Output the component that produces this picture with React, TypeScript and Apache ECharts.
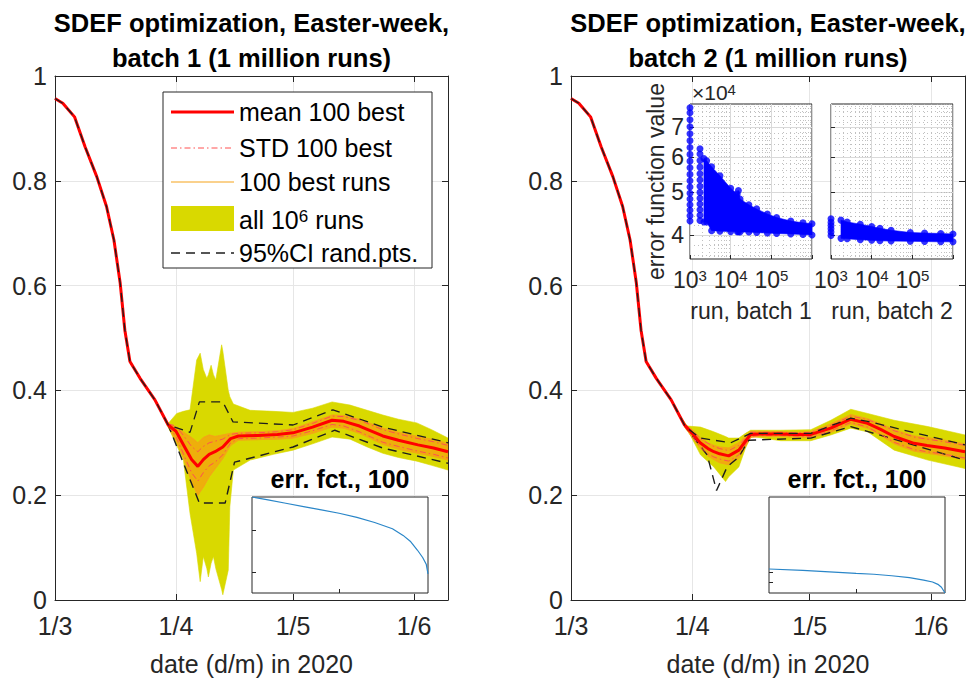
import React, { useEffect, useRef } from 'react';
import * as echarts from 'echarts';

// ---------------- tick labels ----------------
const DATE_TICK_DAYS = [0, 31, 61, 92];
const DATE_TICK_LABELS = ['1/3', '1/4', '1/5', '1/6'];
const DAY_MAX = 100.7;
const TITLE_L = 'SDEF optimization, Easter-week,\nbatch 1 (1 million runs)';
const TITLE_R = 'SDEF optimization, Easter-week,\nbatch 2 (1 million runs)';

// ---------------- common early part (days since 1/3) ----------------
const earlyDays = [0, 2, 5, 7.7, 10.7, 13.2, 15.1, 16.7, 17.9, 19.2, 21.8, 25.6];
const earlyMean = [0.957, 0.948, 0.922, 0.865, 0.808, 0.751, 0.687, 0.605, 0.515, 0.455, 0.423, 0.382];

// ---------------- batch 1 (left) ----------------
const daysL = [29, 31, 33, 35, 36.6, 38, 39.5, 41, 43, 45, 47, 52, 57, 61, 66, 71, 74, 78, 84, 88, 93, 97, 100.7];
const meanL = [0.334, 0.322, 0.295, 0.268, 0.255, 0.268, 0.278, 0.283, 0.292, 0.308, 0.313, 0.314, 0.316, 0.319, 0.33, 0.343, 0.341, 0.332, 0.313, 0.305, 0.296, 0.29, 0.283];
const stdL = [0.002, 0.01, 0.018, 0.025, 0.028, 0.025, 0.022, 0.02, 0.015, 0.008, 0.005, 0.005, 0.005, 0.006, 0.007, 0.008, 0.009, 0.011, 0.012, 0.012, 0.012, 0.012, 0.012];
const bestLoL = [0.33, 0.305, 0.27, 0.225, 0.2, 0.215, 0.235, 0.25, 0.27, 0.295, 0.305, 0.306, 0.307, 0.309, 0.318, 0.33, 0.328, 0.318, 0.297, 0.288, 0.28, 0.274, 0.267];
const bestHiL = [0.336, 0.33, 0.32, 0.31, 0.3, 0.31, 0.315, 0.312, 0.315, 0.318, 0.32, 0.321, 0.323, 0.327, 0.34, 0.353, 0.352, 0.345, 0.328, 0.32, 0.312, 0.306, 0.299];
const bandDaysL = [27.5, 29, 31.2, 32.9, 34.6, 36.3, 37.2, 38, 38.9, 39.3, 40, 40.6, 41.2, 42.7, 43, 44.4, 44.8, 45.7, 50, 56, 61, 66, 71, 75.6, 80, 84, 88, 92.7, 96.5, 100.7];
const bandHiL = [0.356, 0.337, 0.356, 0.36, 0.363, 0.458, 0.471, 0.44, 0.423, 0.43, 0.448, 0.43, 0.42, 0.487, 0.475, 0.4, 0.388, 0.374, 0.362, 0.36, 0.358, 0.366, 0.378, 0.372, 0.362, 0.353, 0.345, 0.338, 0.325, 0.309];
const bandLoL = [0.354, 0.33, 0.295, 0.267, 0.165, 0.089, 0.035, 0.083, 0.06, 0.044, 0.07, 0.083, 0.06, 0.02, 0.01, 0.057, 0.178, 0.248, 0.267, 0.278, 0.286, 0.298, 0.311, 0.307, 0.292, 0.28, 0.272, 0.265, 0.257, 0.248];
const ciUpDaysL = [29, 34.6, 37, 43, 45.6, 61, 71.2, 84, 100.7];
const ciUpL = [0.334, 0.32, 0.378, 0.378, 0.34, 0.334, 0.363, 0.33, 0.3];
const ciLoDaysL = [29, 37, 43.6, 46, 61, 71.7, 84, 100.7];
const ciLoL = [0.334, 0.185, 0.185, 0.263, 0.292, 0.324, 0.29, 0.261];

// ---------------- batch 2 (right) ----------------
const daysR = [29, 31, 33, 35, 36.5, 38, 40.3, 42.9, 44.5, 45.9, 48, 53.6, 57, 61.3, 66.4, 71.5, 75.8, 79, 82.6, 87.7, 91, 95.5, 100.7];
const meanR = [0.334, 0.318, 0.3, 0.289, 0.283, 0.279, 0.275, 0.286, 0.302, 0.316, 0.317, 0.317, 0.316, 0.316, 0.328, 0.345, 0.337, 0.326, 0.312, 0.299, 0.295, 0.29, 0.283];
const stdR = [0.002, 0.005, 0.008, 0.01, 0.01, 0.01, 0.01, 0.009, 0.006, 0.004, 0.003, 0.003, 0.003, 0.004, 0.005, 0.006, 0.007, 0.009, 0.011, 0.012, 0.012, 0.012, 0.012];
const bestLoR = [0.33, 0.31, 0.29, 0.275, 0.268, 0.262, 0.258, 0.27, 0.292, 0.31, 0.312, 0.312, 0.311, 0.31, 0.32, 0.336, 0.328, 0.315, 0.298, 0.284, 0.28, 0.275, 0.268];
const bestHiR = [0.336, 0.325, 0.31, 0.3, 0.295, 0.292, 0.29, 0.3, 0.312, 0.322, 0.322, 0.321, 0.32, 0.321, 0.336, 0.354, 0.346, 0.337, 0.325, 0.313, 0.31, 0.305, 0.298];
const bandDaysR = [27.5, 29.7, 33.1, 36.5, 39.5, 40.3, 42.9, 44.6, 45.9, 46.3, 53.6, 61.3, 66.4, 71.5, 75.8, 82.6, 91.2, 100.7];
const bandHiR = [0.356, 0.332, 0.33, 0.321, 0.312, 0.309, 0.309, 0.318, 0.324, 0.324, 0.324, 0.325, 0.343, 0.364, 0.356, 0.343, 0.331, 0.315];
const bandLoR = [0.354, 0.326, 0.277, 0.254, 0.226, 0.235, 0.254, 0.29, 0.31, 0.312, 0.304, 0.304, 0.315, 0.328, 0.321, 0.286, 0.267, 0.251];
const ciUpDaysR = [29, 29.7, 33.1, 40.8, 45.9, 61.3, 71.5, 75.8, 100.7];
const ciUpR = [0.334, 0.328, 0.309, 0.3, 0.318, 0.318, 0.347, 0.341, 0.296];
const ciLoDaysR = [29, 29.7, 34.8, 37.2, 39.9, 42.9, 45.4, 61.3, 71.5, 100.7];
const ciLoR = [0.334, 0.326, 0.277, 0.209, 0.254, 0.273, 0.305, 0.309, 0.331, 0.267];

// ---------------- "err. fct., 100" insets ----------------
const errRank1 = [1, 10, 20, 30, 40, 50, 60, 70, 80, 86, 90, 94, 97, 99, 100];
const errBatch1 = [40280, 40273, 40265, 40257, 40249, 40241, 40231, 40219, 40204, 40188, 40174, 40153, 40135, 40119, 40096];
const errRank2 = [1, 20, 40, 50, 60, 70, 80, 88, 93, 96, 98, 100];
const errBatch2 = [38628, 38614, 38595, 38585, 38576, 38561, 38542, 38518, 38499, 38476, 38447, 38390];
const errTicks1 = [40100, 40200];
const errTicks2 = [38500, 38600];

// ---------------- error function value vs run (log-log inset) ----------------
const run1ColAX = 1000;
const run1ColA = [43000, 44200, 45500, 46800, 48200, 49700, 51300, 53000, 54800, 56700, 58700, 60800, 63000, 65300, 67700, 70200, 72800, 75500, 77500];
const run1ColBX = 1760;
const run1ColB = [43100, 44300, 45600, 47000, 48400, 49900, 51500, 53200, 55000, 56900, 58900, 60900, 62600];
const run1BandX = [2200, 2570, 3400, 5450, 10000, 14500, 15500, 17000, 28000, 43600, 80000, 135000, 300000, 600000, 1000000];
const run1BandHi = [59500, 58800, 57000, 54400, 51000, 49500, 50400, 48200, 46800, 45800, 44600, 43800, 43000, 42600, 42400];
const run1BandLo = [42800, 42800, 40900, 40800, 40700, 40700, 40700, 40600, 40600, 40500, 40400, 40300, 40200, 40100, 40000];
const run2ColAX = 1000;
const run2ColA = [39900, 40600, 41300, 42000, 42700, 43500];
const run2BandX = [1760, 2500, 5250, 10000, 16000, 30000, 89000, 200000, 500000, 1000000];
const run2BandHi = [43200, 42800, 42300, 41800, 41400, 41000, 40500, 40400, 40300, 40200];
const run2BandLo = [39300, 39200, 39000, 38900, 38800, 38750, 38700, 38650, 38600, 38600];
const errTickValues = [40000, 50000, 60000, 70000];
const errMinorTicks = [36000, 38000, 42000, 44000, 46000, 48000, 52000, 54000, 56000, 58000, 62000, 64000, 66000, 68000, 72000, 74000, 76000, 78000];
const runMinorTicks = [2000, 3000, 4000, 5000, 6000, 7000, 8000, 9000, 20000, 30000, 40000, 50000, 60000, 70000, 80000, 90000, 200000, 300000, 400000, 500000, 600000, 700000, 800000, 900000];

// ---------------- styles ----------------
const FONT = '"Liberation Sans", Arial, Helvetica, sans-serif';
const AXC = '#262626';
const GRIDC = '#e6e6e6';
const YELLOW = '#D9D900';
const RED = '#FF0000';
const STDRED = '#FF5050';
const ORANGE = '#F5A31A';
const CIC = '#1e1e1e';
const BLUE = '#0000FF';
const ERRBLUE = '#2a86c8';

const pairs = (xs: number[], ys: number[]) => xs.map((x, i) => [x, ys[i]]);

function bandSeries(xIdx: number, yIdx: number, xs: number[], lo: number[], hi: number[], color: string, z: number) {
  return {
    type: 'custom',
    xAxisIndex: xIdx,
    yAxisIndex: yIdx,
    z,
    silent: true,
    data: xs.map((x, i) => [x, lo[i], hi[i]]),
    encode: { x: 0, y: [1, 2] },
    renderItem: (params: any, api: any) => {
      if (params.dataIndex !== 0) return null;
      const pts: number[][] = [];
      for (let i = 0; i < xs.length; i++) pts.push(api.coord([xs[i], hi[i]]));
      for (let i = xs.length - 1; i >= 0; i--) pts.push(api.coord([xs[i], lo[i]]));
      return { type: 'polygon', shape: { points: pts }, style: { fill: color, stroke: color, lineWidth: 0.6 } };
    },
  };
}

function lineSeries(xIdx: number, yIdx: number, data: number[][], color: string, width: number, type: any, z: number, dashOffset = 0) {
  return {
    type: 'line',
    xAxisIndex: xIdx,
    yAxisIndex: yIdx,
    data,
    showSymbol: false,
    symbol: 'none',
    silent: true,
    z,
    lineStyle: { color, width, type, dashOffset, cap: 'butt' },
  };
}

function panelSeries(p: number, days: number[], mean: number[], std: number[], bestLo: number[], bestHi: number[],
  bandDays: number[], bandLo: number[], bandHi: number[], ciUpDays: number[], ciUp: number[], ciLoDays: number[], ciLo: number[]) {
  const xi = p * 2;
  const yi = p * 2;
  const early = pairs(earlyDays, earlyMean);
  return [
    bandSeries(xi, yi, bandDays, bandLo, bandHi, YELLOW, 1),
    bandSeries(xi, yi, days, bestLo, bestHi, 'rgba(255,140,20,0.55)', 2),
    lineSeries(xi, yi, pairs(days, bestLo), ORANGE, 0.8, 'solid', 3),
    lineSeries(xi, yi, pairs(days, bestHi), ORANGE, 0.8, 'solid', 3),
    lineSeries(xi, yi, early.concat(pairs(ciLoDays, ciLo)), CIC, 1.4, [9, 6], 4, 7.5),
    lineSeries(xi, yi, days.map((d, i) => [d, mean[i] + std[i]]), STDRED, 1, [6, 3, 1.5, 3], 5),
    lineSeries(xi, yi, days.map((d, i) => [d, mean[i] - std[i]]), STDRED, 1, [6, 3, 1.5, 3], 5),
    lineSeries(xi, yi, early.concat(pairs(days, mean)), RED, 3, 'solid', 6),
    lineSeries(xi, yi, early.concat(pairs(ciUpDays, ciUp)), CIC, 1.3, [9, 6], 7, 0),
  ];
}

const dateLabel = (v: number) => {
  const i = DATE_TICK_DAYS.indexOf(Math.round(v));
  return i >= 0 ? DATE_TICK_LABELS[i] : '';
};

function mainXAxes(grid: number) {
  const line = { show: true, onZero: false, lineStyle: { color: AXC, width: 1 } };
  const tick = { show: true, inside: true, length: 6, customValues: DATE_TICK_DAYS, lineStyle: { color: AXC } };
  return [
    {
      type: 'value', gridIndex: grid, position: 'bottom', min: 0, max: DAY_MAX, z: 1,
      axisLine: line, axisTick: tick,
      axisLabel: { show: true, customValues: DATE_TICK_DAYS, formatter: dateLabel, fontSize: 25, color: AXC, fontFamily: FONT, margin: 13 },
      splitLine: { show: true, lineStyle: { color: GRIDC, width: 1 } },
      name: 'date (d/m) in 2020', nameLocation: 'middle', nameGap: 51,
      nameTextStyle: { fontSize: 25, color: AXC, fontFamily: FONT },
    },
    {
      type: 'value', gridIndex: grid, position: 'top', min: 0, max: DAY_MAX, z: 1,
      axisLine: line, axisTick: tick, axisLabel: { show: false }, splitLine: { show: false },
    },
  ];
}

function mainYAxes(grid: number) {
  const line = { show: true, onZero: false, lineStyle: { color: AXC, width: 1 } };
  const tick = { show: true, inside: true, length: 6, lineStyle: { color: AXC } };
  return [
    {
      type: 'value', gridIndex: grid, position: 'left', min: 0, max: 1, interval: 0.2, z: 1,
      axisLine: line, axisTick: tick,
      axisLabel: { show: true, fontSize: 25, color: AXC, fontFamily: FONT, margin: 8 },
      splitLine: { show: true, lineStyle: { color: GRIDC, width: 1 } },
    },
    {
      type: 'value', gridIndex: grid, position: 'right', min: 0, max: 1, interval: 0.2, z: 1,
      axisLine: line, axisTick: tick, axisLabel: { show: false }, splitLine: { show: false },
    },
  ];
}

const supRich = (size: number) => ({
  b: { fontSize: size, fontFamily: FONT, color: AXC },
  s: { fontSize: Math.round(size * 0.66), fontFamily: FONT, color: AXC, verticalAlign: 'top' },
});

function runXAxis(grid: number, name: string) {
  return {
    type: 'log', logBase: 10, gridIndex: grid, position: 'bottom', min: 1000, max: 1000000, z: 11,
    axisLine: { show: false },
    axisTick: { show: true, inside: true, length: 4, lineStyle: { color: AXC } },
    axisLabel: {
      show: true, margin: 9,
      formatter: (v: number) => {
        const e = Math.round(Math.log10(v));
        return e > 5 ? '' : `{b|10}{s|${e}}`;
      },
      rich: supRich(23),
    },
    splitLine: { show: true, lineStyle: { color: '#d9d9d9', width: 1 } },
    name, nameLocation: 'middle', nameGap: 40,
    nameTextStyle: { fontSize: 23, color: AXC, fontFamily: FONT },
  };
}

function runYAxis(grid: number, labels: boolean) {
  return {
    type: 'log', logBase: 10, gridIndex: grid, position: 'left', min: 35300, max: 79000, z: 11,
    axisLine: { show: false },
    axisTick: { show: true, inside: true, length: 4, customValues: errTickValues, lineStyle: { color: AXC } },
    axisLabel: {
      show: labels, customValues: errTickValues, margin: 6,
      formatter: (v: number) => String(Math.round(v / 10000)),
      fontSize: 23, color: AXC, fontFamily: FONT,
    },
    splitLine: { show: true, lineStyle: { color: '#d9d9d9', width: 1 } },
    name: labels ? 'error function value' : '', nameLocation: 'middle', nameGap: 22, nameRotate: 90,
    nameTextStyle: { fontSize: 23, color: AXC, fontFamily: FONT },
  };
}

function minorX(grid: number) {
  return {
    type: 'log', logBase: 10, gridIndex: grid, position: 'top', min: 1000, max: 1000000, z: 11,
    axisLine: { show: false }, axisTick: { show: false, customValues: runMinorTicks }, axisLabel: { show: false },
    splitLine: { show: true, lineStyle: { color: '#b0b0b0', width: 0.8, type: [1, 3] } },
  };
}
function minorY(grid: number) {
  return {
    type: 'log', logBase: 10, gridIndex: grid, position: 'right', min: 35300, max: 79000, z: 11,
    axisLine: { show: false }, axisTick: { show: false, customValues: errMinorTicks }, axisLabel: { show: false },
    splitLine: { show: true, lineStyle: { color: '#b0b0b0', width: 0.8, type: [1, 3] } },
  };
}

function errXAxis(grid: number) {
  return {
    type: 'value', gridIndex: grid, min: 1, max: 100, z: 11,
    axisLine: { show: false },
    axisTick: { show: true, inside: true, length: 4, customValues: [50], lineStyle: { color: AXC } },
    axisLabel: { show: false }, splitLine: { show: false },
  };
}
function errYAxis(grid: number, min: number, max: number, ticks: number[]) {
  return {
    type: 'value', gridIndex: grid, min, max, z: 11,
    axisLine: { show: false },
    axisTick: { show: true, inside: true, length: 4, customValues: ticks, lineStyle: { color: AXC } },
    axisLabel: { show: false }, splitLine: { show: false },
  };
}

function runScatter(xIdx: number, yIdx: number, data: number[][]) {
  return {
    type: 'scatter', xAxisIndex: xIdx, yAxisIndex: yIdx, data, symbol: 'circle', symbolSize: 7,
    itemStyle: { color: BLUE }, clip: false, silent: true, z: 13,
  };
}

function buildOption() {
  const insetGrid = { show: true, backgroundColor: '#ffffff', borderColor: AXC, borderWidth: 1, z: 10, outerBoundsMode: 'none' };
  const legendX1 = 171, legendX2 = 234, textX = 239;
  const legendText = (y: number, text: string, extra: any = {}) => ({
    type: 'text', x: textX, y, z: 31,
    style: { text, fontSize: 25, fontFamily: FONT, fill: '#000', align: 'left', verticalAlign: 'middle', ...extra },
  });
  const legendLine = (y: number, stroke: string, lineWidth: number, lineDash: any) => ({
    type: 'line', z: 31, shape: { x1: legendX1, y1: y, x2: legendX2, y2: y },
    style: { stroke, lineWidth, lineDash },
  });
  const titleStyle = { fontSize: 25.5, fontWeight: 'bold', fontFamily: FONT, fill: '#000', align: 'center', verticalAlign: 'middle', lineHeight: 35 };

  return {
    animation: false,
    backgroundColor: '#ffffff',
    textStyle: { fontFamily: FONT },
    grid: [
      { left: 55, top: 76, width: 393, height: 524, show: false, outerBoundsMode: 'none' },
      { left: 571, top: 76, width: 394, height: 524, show: false, outerBoundsMode: 'none' },
      { left: 252, top: 497, width: 176, height: 96, ...insetGrid },
      { left: 769, top: 497, width: 176, height: 96, ...insetGrid },
      { left: 690, top: 104, width: 122, height: 155, ...insetGrid },
      { left: 831, top: 104, width: 122, height: 155, ...insetGrid },
    ],
    xAxis: [
      ...mainXAxes(0),
      ...mainXAxes(1),
      errXAxis(2),
      errXAxis(3),
      runXAxis(4, 'run, batch 1'),
      runXAxis(5, 'run, batch 2'),
      minorX(4),
      minorX(5),
    ],
    yAxis: [
      ...mainYAxes(0),
      ...mainYAxes(1),
      errYAxis(2, 40050, 40280, errTicks1),
      errYAxis(3, 38390, 39342, errTicks2),
      runYAxis(4, true),
      runYAxis(5, false),
      minorY(4),
      minorY(5),
    ],
    series: [
      ...panelSeries(0, daysL, meanL, stdL, bestLoL, bestHiL, bandDaysL, bandLoL, bandHiL, ciUpDaysL, ciUpL, ciLoDaysL, ciLoL),
      ...panelSeries(1, daysR, meanR, stdR, bestLoR, bestHiR, bandDaysR, bandLoR, bandHiR, ciUpDaysR, ciUpR, ciLoDaysR, ciLoR),
      { ...lineSeries(4, 4, pairs(errRank1, errBatch1), ERRBLUE, 1.2, 'solid', 12) },
      { ...lineSeries(5, 5, pairs(errRank2, errBatch2), ERRBLUE, 1.2, 'solid', 12) },
      bandSeries(6, 6, run1BandX, run1BandLo, run1BandHi, BLUE, 12),
      runScatter(6, 6, [
        ...run1ColA.map((y) => [run1ColAX, y]),
        ...run1ColB.map((y) => [run1ColBX, y]),
        ...pairs(run1BandX, run1BandHi),
        ...pairs(run1BandX, run1BandLo),
      ]),
      bandSeries(7, 7, run2BandX, run2BandLo, run2BandHi, BLUE, 12),
      runScatter(7, 7, [
        ...run2ColA.map((y) => [run2ColAX, y]),
        ...pairs(run2BandX, run2BandHi),
        ...pairs(run2BandX, run2BandLo),
      ]),
    ],
    graphic: [
      { type: 'text', x: 251.5, y: 40, z: 30, style: { text: TITLE_L, ...titleStyle } },
      { type: 'text', x: 768, y: 40, z: 30, style: { text: TITLE_R, ...titleStyle } },
      { type: 'rect', z: 30, shape: { x: 163, y: 92, width: 269, height: 176 }, style: { fill: '#ffffff', stroke: AXC, lineWidth: 1 } },
      legendLine(112, RED, 3, null),
      legendText(112, 'mean 100 best'),
      legendLine(148, STDRED, 1, [6, 3, 1.5, 3]),
      legendText(148, 'STD 100 best'),
      legendLine(182, ORANGE, 1, null),
      legendText(182, '100 best runs'),
      { type: 'rect', z: 31, shape: { x: 171, y: 206, width: 63, height: 25 }, style: { fill: YELLOW } },
      legendText(220, '{b|all 10}{s|6}{b| runs}', { rich: { b: { fontSize: 25, fontFamily: FONT, fill: '#000' }, s: { fontSize: 17, fontFamily: FONT, fill: '#000', verticalAlign: 'top' } } }),
      legendLine(253, CIC, 1.5, [9, 6]),
      legendText(253, '95%CI rand.pts.'),
      { type: 'text', x: 340, y: 479, z: 30, style: { text: 'err. fct., 100', fontSize: 25, fontWeight: 'bold', fontFamily: FONT, fill: '#000', align: 'center', verticalAlign: 'middle' } },
      { type: 'text', x: 857, y: 479, z: 30, style: { text: 'err. fct., 100', fontSize: 25, fontWeight: 'bold', fontFamily: FONT, fill: '#000', align: 'center', verticalAlign: 'middle' } },
      { type: 'text', x: 692, y: 92, z: 30, style: { text: '{b|×10}{s|4}', align: 'left', verticalAlign: 'middle', rich: { b: { fontSize: 21, fontFamily: FONT, fill: AXC }, s: { fontSize: 15, fontFamily: FONT, fill: AXC, verticalAlign: 'top' } } } },
    ],
  };
}

export default function App() {
  const ref = useRef<HTMLDivElement>(null);
  useEffect(() => {
    if (!ref.current) return;
    const chart = echarts.init(ref.current, null, { renderer: 'svg' });
    chart.setOption(buildOption() as any);
    return () => chart.dispose();
  }, []);
  return <div ref={ref} style={{ position: 'absolute', left: 0, top: 0, width: 968, height: 682, background: '#fff' }} />;
}
